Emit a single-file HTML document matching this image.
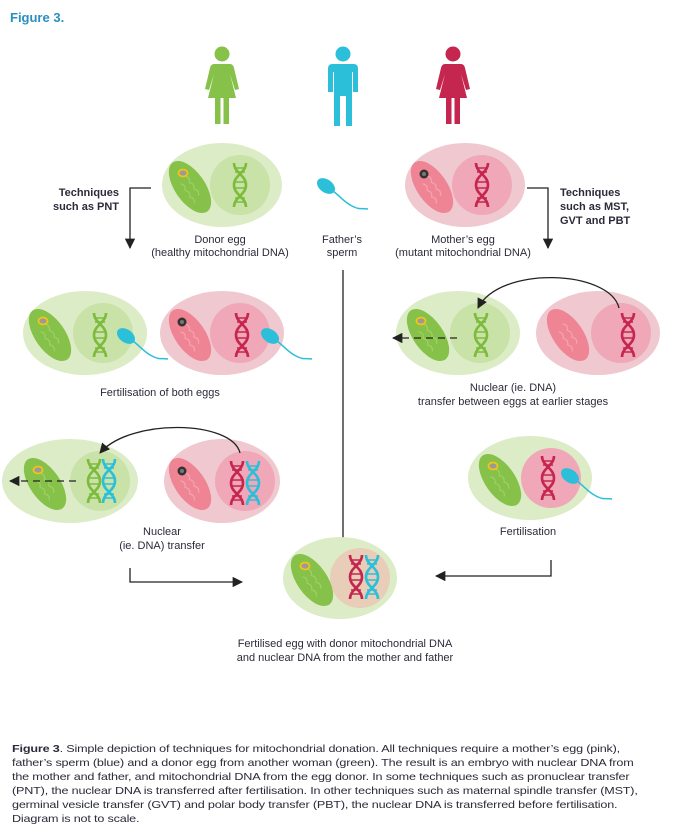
<!DOCTYPE html>
<html><head><meta charset="utf-8"><style>
html,body{margin:0;padding:0;background:#fff;}
body{position:relative;width:673px;height:834px;overflow:hidden;}
svg{display:block;font-family:"Liberation Sans",Arial,sans-serif;}
svg text, svg tspan{font-family:"Liberation Sans",Arial,sans-serif;fill:#2b2b3a;}
#cap{position:absolute;left:12px;top:742px;font-family:"Liberation Sans",Arial,sans-serif;font-size:10.5px;line-height:14px;color:#2b2b3a;white-space:nowrap;letter-spacing:-0.15px;}
#cap div{transform-origin:0 0;transform:scaleX(1.2);height:14px;}
</style></head><body>
<svg width="673" height="834" viewBox="0 0 673 834" xmlns="http://www.w3.org/2000/svg">
<defs>
<marker id="ah" viewBox="0 0 10 10" refX="9" refY="5" markerWidth="8" markerHeight="8" orient="auto-start-reverse"><path d="M0,0 L10,5 L0,10 z" fill="#222"/></marker>
<g id="dnaG"><g fill="none" stroke="#7dbb3c" stroke-width="2.6"><path d="M-6,-22 C-6,-12 6,-10 6,0 C6,10 -6,12 -6,22"/><path d="M6,-22 C6,-12 -6,-10 -6,0 C-6,10 6,12 6,22"/><path d="M-4,-17H4M-5,-13H5M-5,-3H5M-5,3H5M-5,13H5M-4,17H4" stroke-width="1.6"/></g></g>
<g id="dnaP"><g fill="none" stroke="#c4264f" stroke-width="2.6"><path d="M-6,-22 C-6,-12 6,-10 6,0 C6,10 -6,12 -6,22"/><path d="M6,-22 C6,-12 -6,-10 -6,0 C-6,10 6,12 6,22"/><path d="M-4,-17H4M-5,-13H5M-5,-3H5M-5,3H5M-5,13H5M-4,17H4" stroke-width="1.6"/></g></g>
<g id="dnaB"><g fill="none" stroke="#2bbfd9" stroke-width="2.6"><path d="M-6,-22 C-6,-12 6,-10 6,0 C6,10 -6,12 -6,22"/><path d="M6,-22 C6,-12 -6,-10 -6,0 C-6,10 6,12 6,22"/><path d="M-4,-17H4M-5,-13H5M-5,-3H5M-5,3H5M-5,13H5M-4,17H4" stroke-width="1.6"/></g></g>
<g id="mitoG"><ellipse rx="15" ry="30" transform="rotate(-35)" fill="#86c14a"/><path d="M-6,-8 q4,4 0,8 q4,4 0,8 q4,4 0,8 M2,-12 q4,4 0,8 q4,4 0,8 q4,4 0,8" transform="rotate(-35)" fill="none" stroke="#9fd065" stroke-width="1.2"/><ellipse cx="-7" cy="-14" rx="4.5" ry="3.5" fill="#9a9a9a" stroke="#f2c414" stroke-width="1.8"/></g>
<g id="mitoP"><ellipse rx="15" ry="30" transform="rotate(-35)" fill="#ee8494"/><path d="M-6,-8 q4,4 0,8 q4,4 0,8 q4,4 0,8 M2,-12 q4,4 0,8 q4,4 0,8 q4,4 0,8" transform="rotate(-35)" fill="none" stroke="#f5a3b0" stroke-width="1.2"/></g>
<g id="mitoPX"><use href="#mitoP"/><circle cx="-8" cy="-13" r="4.5" fill="#333"/><circle cx="-8" cy="-13" r="2" fill="#777"/></g>
<g id="sperm"><ellipse rx="10" ry="6.5" transform="rotate(35)" fill="#2bbfd9"/><path d="M7,5 C16,12 18,16 26,20 S34,22 42,23" fill="none" stroke="#2bbfd9" stroke-width="1.5"/></g>
<g id="woman"><circle cx="0" cy="-32" r="7.5"/><path d="M-8,-22 H8 Q11,-22 12,-18 L17,3 L13,4 L8,-12 L14,12 H7 V38 H1.5 V12 H-1.5 V38 H-7 V12 H-14 L-8,-12 L-13,4 L-17,3 L-12,-18 Q-11,-22 -8,-22 Z"/></g>
</defs>

<text x="10" y="22" font-size="13" font-weight="bold" style="fill:#2a8fbd">Figure 3.</text>

<use href="#woman" x="222" y="86" fill="#86c14a"/>
<use href="#woman" x="453" y="86" fill="#c4264f"/>
<g fill="#2bbfd9"><circle cx="343" cy="54" r="7.5"/><path d="M332,64 H354 Q358,64 358,69 V92 H353 V72 H352 V126 H346 V96 H340 V126 H334 V72 H333 V92 H328 V69 Q328,64 332,64 Z"/></g>

<ellipse cx="222" cy="185" rx="60" ry="42" fill="#dcecc6"/>
<circle cx="240" cy="185" r="30" fill="#c8e2a8"/>
<use href="#mitoG" x="190" y="187"/>
<use href="#dnaG" x="240" y="185"/>
<use href="#sperm" x="326" y="186"/>
<ellipse cx="465" cy="185" rx="60" ry="42" fill="#f0c8d0"/>
<circle cx="482" cy="185" r="30" fill="#f0a8b8"/>
<use href="#mitoPX" x="432" y="187"/>
<use href="#dnaP" x="482" y="185"/>

<g font-size="11" text-anchor="middle">
<text x="220" y="243">Donor egg</text><text x="220" y="256">(healthy mitochondrial DNA)</text>
<text x="342" y="243">Father’s</text><text x="342" y="256">sperm</text>
<text x="463" y="243">Mother’s egg</text><text x="463" y="256">(mutant mitochondrial DNA)</text>
</g>
<g font-size="11" font-weight="bold">
<text x="119" y="196" text-anchor="end">Techniques</text><text x="119" y="210" text-anchor="end">such as PNT</text>
<text x="560" y="196">Techniques</text><text x="560" y="210">such as MST,</text><text x="560" y="224">GVT and PBT</text>
</g>
<g fill="none" stroke="#222" stroke-width="1.3">
<path d="M151,188 H130 V248" marker-end="url(#ah)"/>
<path d="M527,188 H548 V248" marker-end="url(#ah)"/>
<path d="M343,270 V570"/>
</g>

<ellipse cx="85" cy="333" rx="62" ry="42" fill="#dcecc6"/>
<circle cx="103" cy="333" r="30" fill="#c8e2a8"/>
<use href="#mitoG" x="50" y="335"/>
<use href="#dnaG" x="100" y="335"/>
<use href="#sperm" x="126" y="336"/>
<ellipse cx="222" cy="333" rx="62" ry="42" fill="#f0c8d0"/>
<circle cx="240" cy="333" r="30" fill="#f0a8b8"/>
<use href="#mitoPX" x="190" y="335"/>
<use href="#dnaP" x="242" y="335"/>
<use href="#sperm" x="270" y="336"/>
<text x="160" y="396" font-size="11" text-anchor="middle">Fertilisation of both eggs</text>

<ellipse cx="458" cy="333" rx="62" ry="42" fill="#dcecc6"/>
<circle cx="480" cy="333" r="30" fill="#c8e2a8"/>
<use href="#mitoG" x="428" y="335"/>
<use href="#dnaG" x="481" y="335"/>
<ellipse cx="598" cy="333" rx="62" ry="42" fill="#f0c8d0"/>
<circle cx="621" cy="333" r="30" fill="#f0a8b8"/>
<use href="#mitoP" x="568" y="335"/>
<use href="#dnaP" x="628" y="335"/>
<g fill="none" stroke="#222" stroke-width="1.3">
<path d="M619,308 C610,270 500,265 478,308" marker-end="url(#ah)"/>
<path d="M457,338 H393" stroke-dasharray="7,5" marker-end="url(#ah)"/>
</g>
<text x="513" y="391" font-size="11" text-anchor="middle">Nuclear (ie. DNA)</text>
<text x="513" y="405" font-size="11" text-anchor="middle">transfer between eggs at earlier stages</text>

<ellipse cx="70" cy="481" rx="68" ry="42" fill="#dcecc6"/>
<circle cx="100" cy="481" r="30" fill="#c8e2a8"/>
<use href="#mitoG" x="45" y="484"/>
<use href="#dnaG" x="94" y="481"/>
<use href="#dnaB" x="109" y="481"/>
<ellipse cx="222" cy="481" rx="58" ry="42" fill="#f0c8d0"/>
<circle cx="245" cy="481" r="30" fill="#f0a8b8"/>
<use href="#mitoPX" x="190" y="484"/>
<use href="#dnaP" x="237" y="483"/>
<use href="#dnaB" x="253" y="483"/>
<g fill="none" stroke="#222" stroke-width="1.3">
<path d="M240,453 C232,420 130,418 100,453" marker-end="url(#ah)"/>
<path d="M76,481 H10" stroke-dasharray="7,5" marker-end="url(#ah)"/>
</g>
<text x="162" y="535" font-size="11" text-anchor="middle">Nuclear</text>
<text x="162" y="549" font-size="11" text-anchor="middle">(ie. DNA) transfer</text>

<ellipse cx="530" cy="478" rx="62" ry="42" fill="#dcecc6"/>
<circle cx="551" cy="478" r="30" fill="#f0a8b8"/>
<use href="#mitoG" x="500" y="480"/>
<use href="#dnaP" x="548" y="478"/>
<use href="#sperm" x="570" y="476"/>
<text x="528" y="535" font-size="11" text-anchor="middle">Fertilisation</text>

<ellipse cx="340" cy="578" rx="57" ry="41" fill="#dcecc6"/>
<circle cx="360" cy="578" r="30" fill="#e8cdb8"/>
<use href="#mitoG" x="312" y="580"/>
<use href="#dnaP" x="356" y="577"/>
<use href="#dnaB" x="372" y="577"/>
<g fill="none" stroke="#222" stroke-width="1.3">
<path d="M130,568 V582 H242" marker-end="url(#ah)"/>
<path d="M551,560 V576 H436" marker-end="url(#ah)"/>
</g>
<text x="345" y="647" font-size="11" text-anchor="middle">Fertilised egg with donor mitochondrial DNA</text>
<text x="345" y="661" font-size="11" text-anchor="middle">and nuclear DNA from the mother and father</text>
</svg>
<div id="cap">
<div><b>Figure 3</b>. Simple depiction of techniques for mitochondrial donation. All techniques require a mother’s egg (pink),</div>
<div>father’s sperm (blue) and a donor egg from another woman (green). The result is an embryo with nuclear DNA from</div>
<div>the mother and father, and mitochondrial DNA from the egg donor. In some techniques such as pronuclear transfer</div>
<div>(PNT), the nuclear DNA is transferred after fertilisation. In other techniques such as maternal spindle transfer (MST),</div>
<div>germinal vesicle transfer (GVT) and polar body transfer (PBT), the nuclear DNA is transferred before fertilisation.</div>
<div>Diagram is not to scale.</div>
</div>
</body></html>
